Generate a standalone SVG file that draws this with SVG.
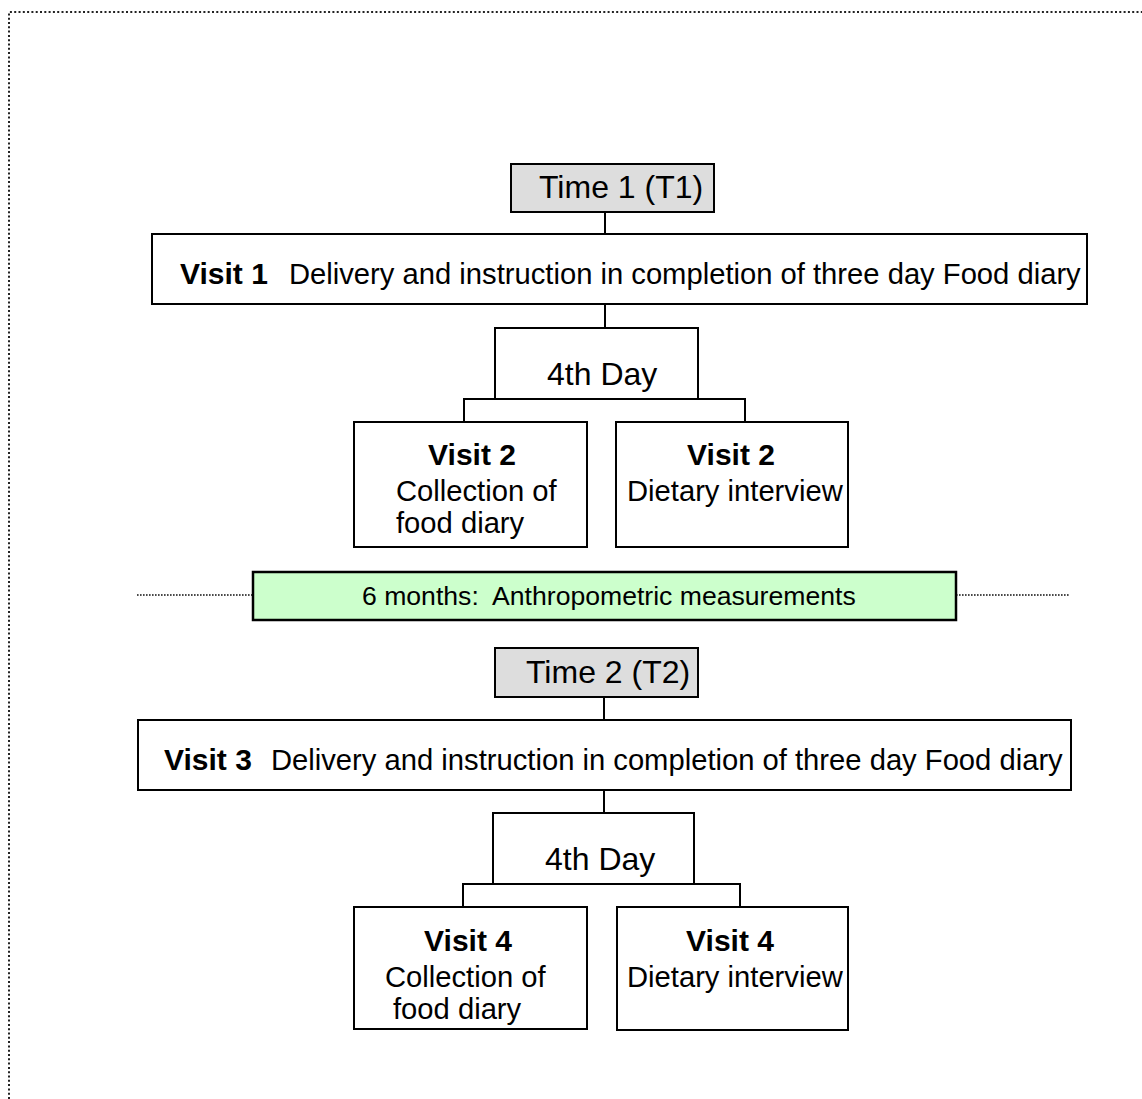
<svg xmlns="http://www.w3.org/2000/svg" width="1142" height="1099" viewBox="0 0 1142 1099">
  <style>
    .box { fill: #ffffff; stroke: #000000; stroke-width: 2; }
    .time { fill: #dddddd; stroke: #000000; stroke-width: 2; }
    .phase { fill: #ccffcc; stroke: #000000; stroke-width: 2.5; }
    .link { fill: none; stroke: #000000; stroke-width: 2; }
    .frame { fill: none; stroke: #222222; stroke-width: 2; stroke-dasharray: 2 2.3; }
    .sep { fill: none; stroke: #111111; stroke-width: 1.6; stroke-dasharray: 1.6 1.4; }
    text { font-family: "Liberation Sans", Arial, sans-serif; fill: #000000; }
    .t { font-size: 29.2px; }
    .b { font-size: 30px; font-weight: bold; }
    .big { font-size: 32px; }
    .small { font-size: 26.6px; white-space: pre; }
  </style>

  <!-- page frame (dotted, top and left edges) -->
  <g id="frame">
    <path class="frame" d="M9,1099 V12 H1142"/>
  </g>

  <!-- connectors -->
  <g id="connectors">
    <path class="link" d="M605,212 V234"/>
    <path class="link" d="M605,304 V328"/>
    <path class="link" d="M464,422 V399 H745 V422"/>
    <path class="link" d="M604,697 V720"/>
    <path class="link" d="M604,790 V813"/>
    <path class="link" d="M463,907 V884 H740 V907"/>
    <path class="sep" d="M137,595 H253"/>
    <path class="sep" d="M956,595 H1070"/>
  </g>

  <!-- Time 1 -->
  <g id="time1">
    <rect class="time" x="511" y="164" width="203" height="48"/>
    <text class="big" x="539" y="198">Time 1 (T1)</text>
  </g>

  <!-- Visit 1 -->
  <g id="visit1">
    <rect class="box" x="152" y="234" width="935" height="70"/>
    <text class="b" x="180" y="284">Visit 1</text>
    <text class="t" x="289" y="284">Delivery and instruction in completion of three day Food diary</text>
  </g>

  <!-- 4th day (first round) -->
  <g id="day4a">
    <rect class="box" x="495" y="328" width="203" height="71"/>
    <text class="big" x="547" y="385">4th Day</text>
  </g>

  <!-- Visit 2: collection -->
  <g id="visit2a">
    <rect class="box" x="354" y="422" width="233" height="125"/>
    <text class="b" x="472" y="465" text-anchor="middle">Visit 2</text>
    <text class="t" x="396" y="501">Collection of</text>
    <text class="t" x="396" y="533">food diary</text>
  </g>

  <!-- Visit 2: interview -->
  <g id="visit2b">
    <rect class="box" x="616" y="422" width="232" height="125"/>
    <text class="b" x="731" y="465" text-anchor="middle">Visit 2</text>
    <text class="t" x="627" y="501">Dietary interview</text>
  </g>

  <!-- 6 months marker -->
  <g id="months6">
    <rect class="phase" x="253" y="572" width="703" height="48"/>
    <text class="small" x="362" y="605" xml:space="preserve">6 months:  Anthropometric measurements</text>
  </g>

  <!-- Time 2 -->
  <g id="time2">
    <rect class="time" x="495" y="648" width="203" height="49"/>
    <text class="big" x="526" y="683">Time 2 (T2)</text>
  </g>

  <!-- Visit 3 -->
  <g id="visit3">
    <rect class="box" x="138" y="720" width="933" height="70"/>
    <text class="b" x="164" y="770">Visit 3</text>
    <text class="t" x="271" y="770">Delivery and instruction in completion of three day Food diary</text>
  </g>

  <!-- 4th day (second round) -->
  <g id="day4b">
    <rect class="box" x="493" y="813" width="201" height="71"/>
    <text class="big" x="545" y="870">4th Day</text>
  </g>

  <!-- Visit 4: collection -->
  <g id="visit4a">
    <rect class="box" x="354" y="907" width="233" height="122"/>
    <text class="b" x="468" y="951" text-anchor="middle">Visit 4</text>
    <text class="t" x="385" y="987">Collection of</text>
    <text class="t" x="393" y="1019">food diary</text>
  </g>

  <!-- Visit 4: interview -->
  <g id="visit4b">
    <rect class="box" x="617" y="907" width="231" height="123"/>
    <text class="b" x="730" y="951" text-anchor="middle">Visit 4</text>
    <text class="t" x="627" y="987">Dietary interview</text>
  </g>
</svg>
